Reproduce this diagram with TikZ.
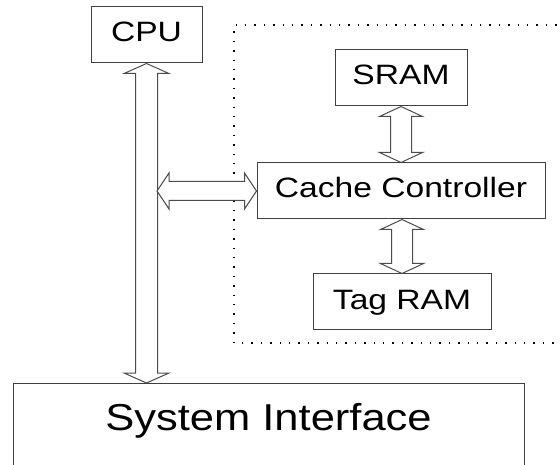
\documentclass[tikz,border=0pt]{standalone}
\usepackage{fontspec}
\setmainfont{Liberation Sans}
\newfontfamily\smallfnt[FakeStretch=1.2]{Liberation Sans}
\newfontfamily\bigfnt[FakeStretch=1.16]{Liberation Sans}
\newcommand\fatarrowv[5]{%
  \draw[arr] (#1) -- ([shift={(#4,#5)}]#1) -- ([shift={(#3,#5)}]#1)
    -- ([shift={(#3,-#5)}]#2) -- ([shift={(#4,-#5)}]#2) -- (#2)
    -- ([shift={(-#4,-#5)}]#2) -- ([shift={(-#3,-#5)}]#2)
    -- ([shift={(-#3,#5)}]#1) -- ([shift={(-#4,#5)}]#1) -- cycle;}
\newcommand\fatarrowh[5]{%
  \draw[arr] (#1) -- ([shift={(#5,-#4)}]#1) -- ([shift={(#5,-#3)}]#1)
    -- ([shift={(-#5,-#3)}]#2) -- ([shift={(-#5,-#4)}]#2) -- (#2)
    -- ([shift={(-#5,#4)}]#2) -- ([shift={(-#5,#3)}]#2)
    -- ([shift={(#5,#3)}]#1) -- ([shift={(#5,#4)}]#1) -- cycle;}
\begin{document}
\begin{tikzpicture}[x=1pt,y=-1pt,
  box/.style={draw=black!75, line width=1pt, fill=white, inner sep=0pt,
    minimum height=56pt, text height=20pt, text depth=6pt,
    font=\smallfnt\fontsize{28pt}{30pt}\selectfont},
  arr/.style={draw=black!70, line width=1pt, fill=white, line join=miter},
  frame/.style={draw=black, line width=1.4pt, dash pattern=on 1.4pt off 8pt}]
\useasboundingbox (0,0) rectangle (560,465);
% dotted frame
\coordinate (ftr) at (566,25);
\coordinate (ftl) at (234,25);
\coordinate (fbl) at (234,343);
\coordinate (fbr) at (566,343);
\draw[frame] (ftr) -- (ftl) -- (fbl) -- (fbr);
% nodes
\node[box, minimum width=111pt] (cpu) at (146.5,35) {CPU};
\node[box, minimum width=132pt] (sram) at (401,78) {SRAM};
\node[box, minimum width=288pt] (cc) at (401,191) {Cache Controller};
\node[box, minimum width=178pt] (tag) at (402,302) {Tag RAM};
\node[box, minimum width=511pt, minimum height=110pt, anchor=north,
  label={[anchor=base, yshift=-47pt, font=\bigfnt\fontsize{37.5pt}{40pt}\selectfont]north:System Interface}]
  (sys) at (268.5,383) {};
% connectors
\coordinate (cputip) at (cpu.south);
\coordinate (systip) at (cpu.south |- sys.north);
\fatarrowv{cputip}{systip}{11}{22.5}{10}
\coordinate (hl) at (157,191);
\coordinate (hr) at (cc.west);
\fatarrowh{hl}{hr}{9.5}{18}{12}
\coordinate (s1) at (sram.south);
\coordinate (s2) at (sram.south |- cc.north);
\fatarrowv{s1}{s2}{10.5}{21.5}{10}
\coordinate (t1) at (cc.south -| tag.north);
\coordinate (t2) at (tag.north);
\fatarrowv{t1}{t2}{10.5}{21.5}{10}
\end{tikzpicture}
\end{document}
